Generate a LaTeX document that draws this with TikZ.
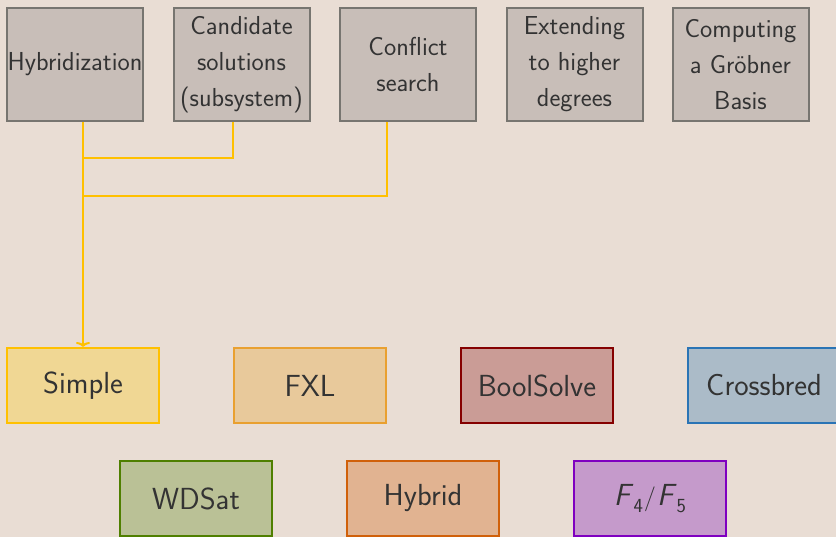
\documentclass[tikz,border=0pt]{standalone}
\usetikzlibrary{arrows.meta}
\definecolor{bg}{HTML}{E9DDD4}
\definecolor{txt}{HTML}{333333}
\definecolor{topfill}{HTML}{C8BEB8}
\definecolor{topdraw}{HTML}{777570}
\definecolor{conn}{HTML}{FFC000}
\definecolor{simplefill}{HTML}{F0D794}
\definecolor{simpledraw}{HTML}{FFC000}
\definecolor{fxlfill}{HTML}{E8C99B}
\definecolor{fxldraw}{HTML}{E9A030}
\definecolor{boolfill}{HTML}{CA9C96}
\definecolor{booldraw}{HTML}{850000}
\definecolor{crossfill}{HTML}{ABBBC8}
\definecolor{crossdraw}{HTML}{2A74B5}
\definecolor{wdfill}{HTML}{BAC196}
\definecolor{wddraw}{HTML}{4F7F00}
\definecolor{hybfill}{HTML}{E1B391}
\definecolor{hybdraw}{HTML}{D0600A}
\definecolor{ffill}{HTML}{C59ACB}
\definecolor{fdraw}{HTML}{7F00C0}
\newcommand{\fsub}[1]{\raisebox{-0.22em}{\fontsize{20}{20}\selectfont #1}}
\begin{document}
\begin{tikzpicture}[x=1pt,y=-1pt,
  topbox/.style={draw=topdraw,fill=topfill,line width=2pt,minimum width=136pt,minimum height=113pt,
    inner sep=0pt,align=center,text=txt,font=\sffamily\fontsize{26}{36}\selectfont},
  algbox/.style={line width=2pt,minimum width=152pt,minimum height=75pt,inner sep=0pt,
    text=txt,font=\sffamily\fontsize{30.5}{34}\selectfont},
  connector/.style={draw=conn,line width=2pt}
]
\fill[bg] (0,0) rectangle (836,537);
\useasboundingbox (0,0) rectangle (836,537);

\node[topbox] (hyb) at (75,64.5) {Hybridization};
\node[topbox] (cand) at (241.5,64.5) {Candidate\\solutions\\(subsystem)};
\node[topbox] (conf) at (408,64.5) {Conflict\\search};
\node[topbox] (ext) at (574.5,64.5) {Extending\\to higher\\degrees};
\node[topbox] (grob) at (740.5,64.5) {Computing\\a Gröbner\\Basis};

\node[algbox,draw=simpledraw,fill=simplefill] (simple) at (83,385.5) {Simple};
\node[algbox,draw=fxldraw,fill=fxlfill] (fxl) at (310,385.5) {FXL};
\node[algbox,draw=booldraw,fill=boolfill] (bool) at (537,385.5) {BoolSolve};
\node[algbox,draw=crossdraw,fill=crossfill] (cross) at (764,385.5) {Crossbred};
\node[algbox,draw=wddraw,fill=wdfill] (wd) at (196,498.5) {WDSat};
\node[algbox,draw=hybdraw,fill=hybfill] (hybrid) at (423,498.5) {Hybrid};
\node[algbox,draw=fdraw,fill=ffill] (f45) at (650,498.5) {\textsl{F}\fsub{4}\kern1pt$/$\kern1pt\textsl{F}\fsub{5}};

\coordinate (j1) at (83,158);
\coordinate (j2) at (83,196);
\draw[connector,-{To[length=5pt,width=14pt]}] (hyb.south -| simple.north) -- (simple.north);
\draw[connector] (cand.south -| fxl.west) |- (j1);
\draw[connector] (conf.south -| fxl.east) |- (j2);
\end{tikzpicture}
\end{document}
